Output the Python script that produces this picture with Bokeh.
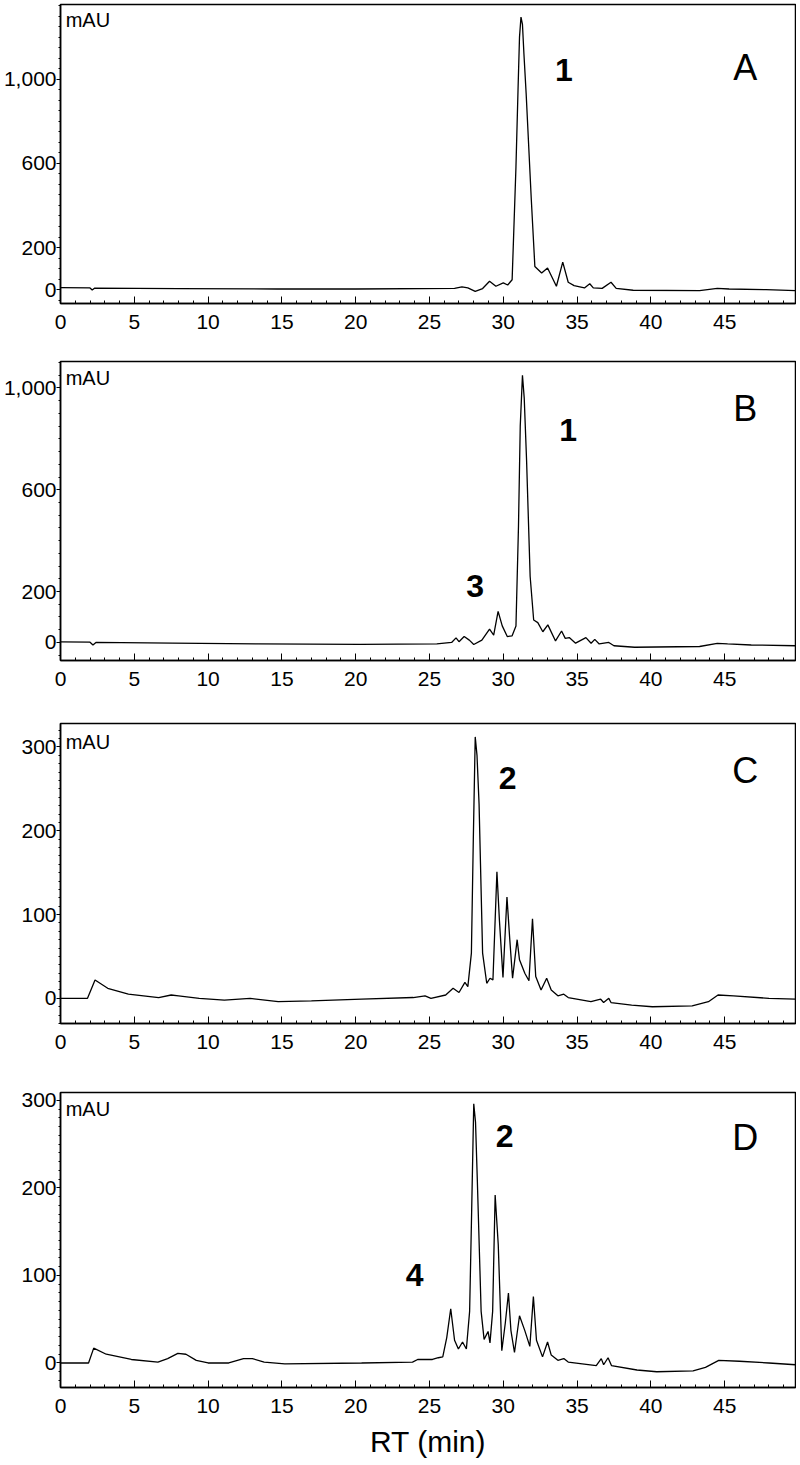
from bokeh.plotting import figure
from bokeh.layouts import column
from bokeh.models import FixedTicker, NumeralTickFormatter, Range1d, Label
from bokeh.embed import file_html
from bokeh.resources import INLINE

# ---------------- data ----------------
rt_a = [0.0, 2.0, 2.15, 2.3, 8.0, 14.7, 20.0, 26.7, 27.2, 27.6, 28.1, 28.6, 29.07, 29.5, 30.0, 30.3,
        30.6, 30.86, 31.0, 31.1, 31.2, 31.3, 31.4, 31.55, 31.9, 32.14, 32.6, 33.0, 33.6, 34.03,
        34.4, 34.8, 35.5, 35.86, 36.1, 36.7, 37.3, 37.65, 38.8, 43.3, 44.5, 45.3, 47.8, 49.8]
mau_a = [9, 8, -2, 7, 5, 3, 3, 6, 13, 8, -8, 5, 40, 16, 32, 22,
         47, 584, 950, 1200, 1295, 1260, 1120, 932, 427, 110, 79, 103, 16, 131,
         35, 19, 8, 28, 8, 6, 35, 6, -3, -5, 6, 3, 0, -5]

rt_b = [0.0, 2.0, 2.2, 2.4, 7.6, 13.4, 20.3, 25.5, 26.5, 26.8, 27.0, 27.35, 27.7, 28.0, 28.55,
        29.07, 29.35, 29.65, 29.93, 30.27, 30.6, 30.86, 31.03, 31.15, 31.3, 31.42, 31.58, 31.82,
        32.06, 32.34, 32.68, 33.02, 33.54, 33.95, 34.2, 34.47, 34.9, 35.6, 35.95, 36.2, 36.5,
        37.15, 37.5, 38.9, 43.3, 44.5, 45.2, 46.8, 49.8]
mau_b = [2, 1, -10, 0, -3, -6, -8, -6, 0, 18, 3, 23, 9, -8, 9,
         52, 29, 122, 65, 23, 26, 65, 455, 850, 1050, 960, 714, 260,
         88, 78, 42, 69, 6, 45, 16, 19, -3, 19, -3, 12, -6,
         0, -13, -19, -16, -4, -6, -10, -13]

rt_c = [0.0, 1.83, 2.34, 3.2, 4.6, 6.65, 7.5, 8.0, 9.4, 11.1, 12.85, 14.75, 17.0, 20.4, 23.9,
        24.7, 25.1, 26.1, 26.6, 27.0, 27.4, 27.6, 27.84, 27.97, 28.1, 28.22, 28.36, 28.6, 28.88,
        29.1, 29.3, 29.57, 29.74, 29.98, 30.25, 30.43, 30.63, 30.94, 31.1, 31.46, 31.74, 31.98,
        32.2, 32.56, 32.94, 33.25, 33.7, 34.1, 34.4, 35.94, 36.6, 36.8, 37.15, 37.3, 38.7, 40.1,
        42.8, 43.9, 44.55, 45.6, 48.0, 49.8]
mau_c = [0, 0, 22, 12, 5, 1, 4, 3, 0, -2, 0, -4, -3, -1, 1,
         3, 0, 4, 12, 7, 19, 14, 54, 190, 312, 290, 232, 54, 18,
         24, 22, 151, 93, 25, 121, 73, 24, 70, 46, 30, 21, 95,
         26, 10, 24, 10, 3, 5, 1, -4, -1, -5, 0, -5, -8, -10,
         -9, -4, 4, 3, 0, -1]

rt_d = [0.0, 1.9, 2.25, 3.1, 4.8, 6.6, 7.26, 7.95, 8.5, 9.2, 10.0, 11.4, 12.4, 13.0, 13.8, 15.2,
        20.4, 23.85, 24.2, 25.2, 25.6, 25.9, 26.17, 26.44, 26.7, 26.96, 27.24, 27.5, 27.72, 27.86,
        28.0, 28.12, 28.24, 28.5, 28.7, 28.97, 29.1, 29.28, 29.45, 29.66, 29.9, 30.14, 30.35,
        30.52, 30.76, 31.1, 31.46, 31.8, 32.04, 32.25, 32.66, 33.0, 33.25, 33.7, 34.1, 34.4, 36.3,
        36.64, 36.8, 37.1, 37.33, 39.06, 40.4, 42.86, 43.7, 44.6, 46.0, 48.0, 49.8]
mau_d = [0, 0, 17, 10, 4, 1, 5, 11, 10, 3, 0, 0, 5, 5, 1, -1,
         0, 1, 4, 4, 6, 7, 29, 62, 26, 16, 24, 16, 59, 175,
         296, 275, 210, 59, 27, 36, 23, 59, 192, 135, 14, 46, 80,
         37, 12, 54, 37, 19, 76, 26, 7, 24, 9, 3, 5, 1, -3,
         5, -2, 6, -3, -8, -10, -9, -5, 3, 2, 0, -2]

x_major = [0, 5, 10, 15, 20, 25, 30, 35, 40, 45]
x_minor = list(range(0, 50))
y_major_ab = [0, 200, 600, 1000]
y_minor_ab = list(range(-50, 1351, 50))
y_major_cd = [0, 100, 200, 300]
y_minor_cd = list(range(-30, 331, 10))

FONT = "Liberation Sans"


def make_panel(rt, mau, yr, ymaj, ymin, letter, peaks, mau_y, height, top, bottom, xlabel=None):
    p = figure(width=796, height=height, output_backend="svg", toolbar_location=None,
               x_range=Range1d(0, 49.8), y_range=Range1d(*yr),
               min_border_left=57, min_border_right=1, min_border_top=top,
               min_border_bottom=bottom)
    p.background_fill_color = "white"
    p.border_fill_color = "white"
    p.outline_line_color = "black"
    p.outline_line_width = 1.5
    p.xgrid.visible = False
    p.ygrid.visible = False

    p.line(rt, mau, line_color="black", line_width=1.3)

    xa = p.xaxis[0]
    xa.ticker = FixedTicker(ticks=x_major, minor_ticks=x_minor)
    xa.major_tick_in = 7
    xa.major_tick_out = 0
    xa.minor_tick_in = 3
    xa.minor_tick_out = 0
    xa.axis_line_color = "black"
    xa.axis_line_width = 1.5
    xa.major_label_text_font = FONT
    xa.major_label_text_font_size = "21px"
    xa.major_label_text_color = "black"
    xa.major_label_standoff = 11
    if xlabel:
        xa.axis_label = xlabel
        xa.axis_label_text_font = FONT
        xa.axis_label_text_font_size = "30px"
        xa.axis_label_text_font_style = "normal"
        xa.axis_label_text_color = "black"
        xa.axis_label_standoff = 9

    ya = p.yaxis[0]
    ya.ticker = FixedTicker(ticks=ymaj, minor_ticks=ymin)
    ya.formatter = NumeralTickFormatter(format="0,0")
    ya.major_tick_in = 0
    ya.major_tick_out = 4
    ya.minor_tick_in = 0
    ya.minor_tick_out = 2
    ya.axis_line_color = "black"
    ya.axis_line_width = 1.5
    ya.major_label_text_font = FONT
    ya.major_label_text_font_size = "21px"
    ya.major_label_text_color = "black"
    ya.major_label_standoff = 0

    p.add_layout(Label(x=0.35, y=mau_y, text="mAU", text_font=FONT, text_font_size="20px",
                       text_align="left", text_baseline="middle", text_color="black"))
    p.add_layout(Label(x=46.4, y=letter[1], text=letter[0], text_font=FONT,
                       text_font_size="36px", text_align="center", text_baseline="middle",
                       text_color="black"))
    for txt, px, py in peaks:
        p.add_layout(Label(x=px, y=py, text=txt, text_font=FONT, text_font_size="32px",
                           text_font_style="bold", text_align="center",
                           text_baseline="middle", text_color="black"))
    return p


pa = make_panel(rt_a, mau_a, (-66, 1355), y_major_ab, y_minor_ab, ("A", 1057),
                [("1", 34.1, 1045)], 1280, 357, 4, 54)
pb = make_panel(rt_b, mau_b, (-71, 1104), y_major_ab, y_minor_ab, ("B", 918),
                [("1", 34.4, 835), ("3", 28.1, 223)], 1039, 361, 4, 58)
pc = make_panel(rt_c, mau_c, (-30, 328), y_major_cd, y_minor_cd, ("C", 272),
                [("2", 30.3, 263)], 306, 369, 5, 64)
pd = make_panel(rt_d, mau_d, (-28, 309), y_major_cd, y_minor_cd, ("D", 258),
                [("2", 30.1, 259), ("4", 24.0, 100)], 290, 373, 5, 72, xlabel="RT (min)")

layout = column(pa, pb, pc, pd, spacing=0)

with open("out.html", "w") as f:
    f.write(file_html(layout, INLINE))
